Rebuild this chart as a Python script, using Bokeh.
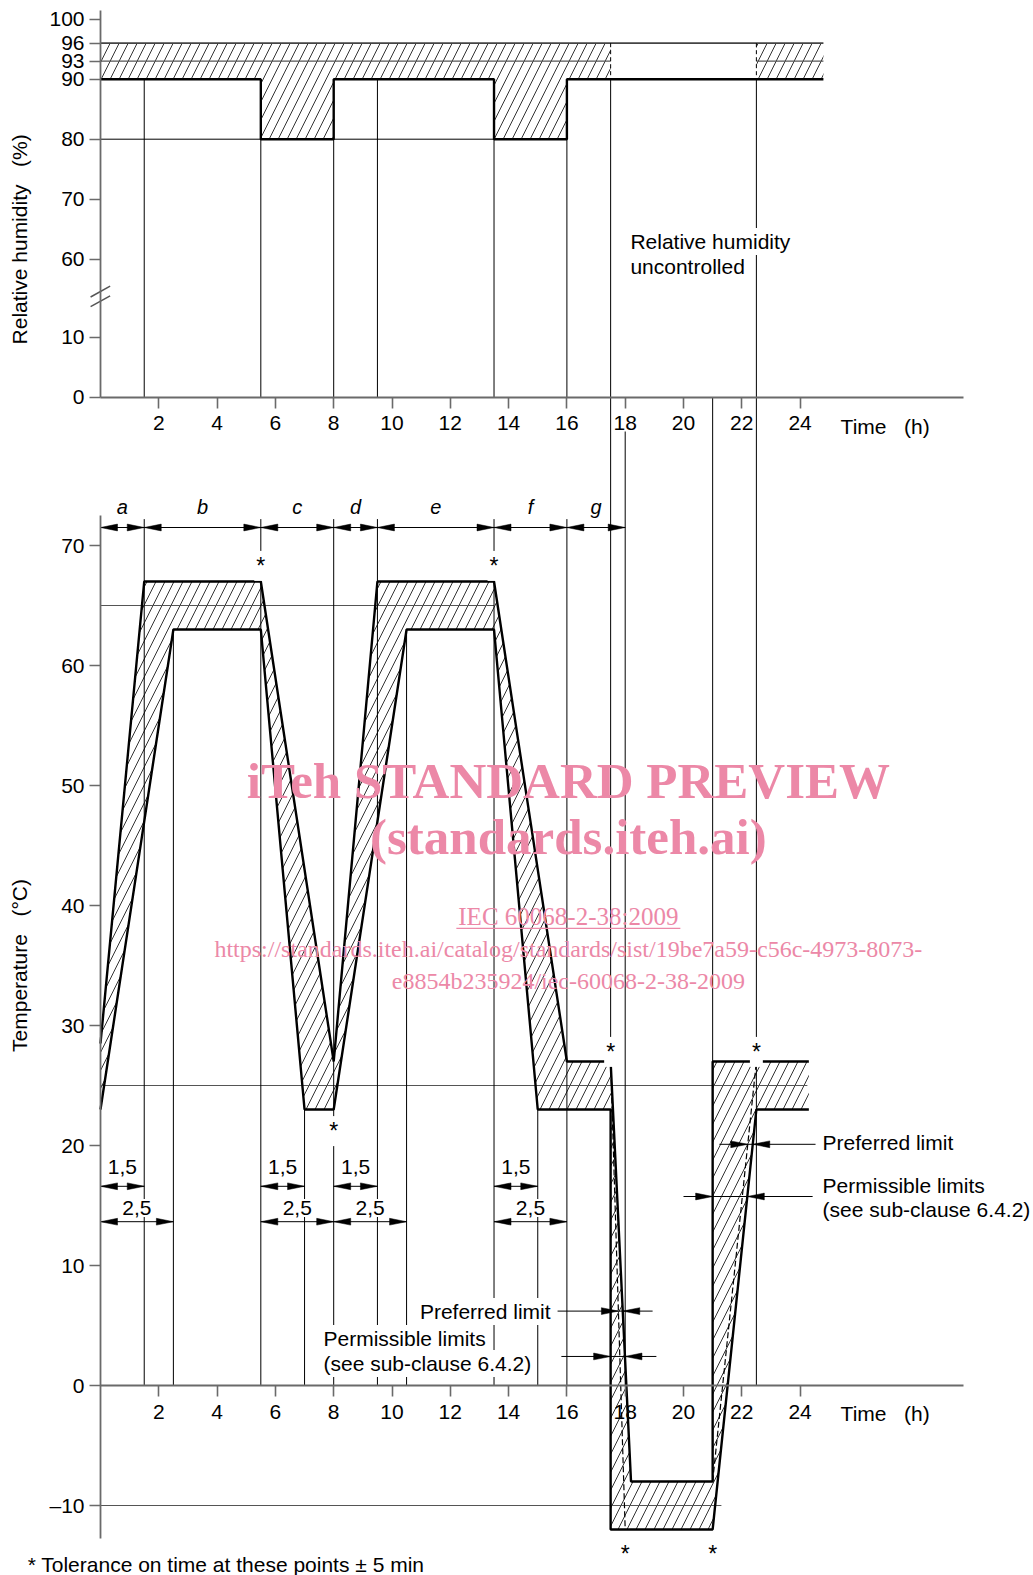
import numpy as np
from bokeh.plotting import figure
from bokeh.models import Range1d, LinearAxis, FixedTicker, Label
from bokeh.embed import file_html
from bokeh.resources import INLINE

# ------------------------------------------------------------------ data
TIME_TICKS = [2, 4, 6, 8, 10, 12, 14, 16, 18, 20, 22, 24]
TIME_AXIS_END = 29.6

# relative humidity (%) - top chart (broken axis)
RH_TICKS = [0, 10, 60, 70, 80, 90, 93, 96, 100]
RH_BREAK_SHIFT = 37                      # values above the break drawn 37 % lower
RH_STEP_EDGES = [0, 5.5, 8, 13.5, 16, 24.8]
RH_STEP_MIN = [90, 80, 90, 80, 90]       # lower limit in each step
RH_UPPER = 96
RH_MID = 93
RH_GAP = [17.5, 22.5]                    # humidity uncontrolled between these times
RH_VLINE_T = [1.5, 5.5, 8, 9.5, 13.5, 16]
RH_VLINE_TOP = [90, 80, 80, 90, 80, 80]

# temperature (deg C) - bottom chart
T_TICKS = [-10, 0, 10, 20, 30, 40, 50, 60, 70]
TU_T = [0, 1.5, 5.5, 8, 9.5, 13.5, 16, 17.5, 18.2, 21, 21, 24.3]      # upper envelope
TU_V = [28.5, 67, 67, 27, 67, 67, 27, 27, -8, -8, 27, 27]
TL_T = [0, 2.5, 5.5, 7, 8, 10.5, 13.5, 15, 17.5, 17.5, 21, 22.5, 24.3]  # lower envelope
TL_V = [23, 63, 63, 23, 23, 63, 63, 23, 23, -12, -12, 23, 23]
COLD_START = 17.5
WARM_START = 21
PREF_COLD_T = [17.5, 18]      # preferred limit (dashed), cooling
PREF_COLD_V = [27, -12]
PREF_WARM_T = [21, 22.5]      # preferred limit (dashed), heating
PREF_WARM_V = [-8, 27]
SOLID_COLD_T = [17.5, 18.2]
SOLID_COLD_V = [27, -8]
SOLID_WARM_T = [21, 22.5]
SOLID_WARM_V = [-12, 23]
T_REF_LEVEL = [65, 25, -10]
T_REF_END = [13.5, 24.25, 21.3]

T_VLINE_T = [1.5, 2.5, 5.5, 7, 8, 9.5, 10.5, 13.5, 15, 16]
T_VLINE_TOP = [72.2, 63, 72.2, 23, 72.2, 72.2, 63, 72.2, 23, 72.2]
LONG_T = [17.5, 18, 21, 22.5]
LONG_TOP = [("rh", 90), ("T", 79.5), ("rh", 0), ("rh", 90)]
LONG_BOT = [27, 0, 27, 0]

PHASE_LABELS = ["a", "b", "c", "d", "e", "f", "g"]
PHASE_EDGES = [0, 1.5, 5.5, 8, 9.5, 13.5, 16, 18]
PHASE_ROW = 71.5

RAMP_START = [0, 5.5, 8, 13.5]
RAMP_DUR = [1.5, 2.5]
RAMP_TEXT = ["1,5", "2,5"]
RAMP_ROW = [16.6, 13.65]
RAMP_TEXT_Y = [18.25, 14.8]

STAR_T = [5.5, 13.5, 8, 17.5, 22.5, 18, 21]
STAR_V = [68.3, 68.3, 21.2, 27.8, 27.8, -14.0, -14.0]

ANN_ROW = [6.2, 2.42, 20.1, 15.75]
ANN_LEADER = [(15.68, 18.94), (15.81, 19.07), (21.23, 24.53), (20.0, 24.43)]

BREAK_X0 = [-0.34, -0.34]
BREAK_Y0 = [15.1, 16.7]
BREAK_X1 = [0.33, 0.33]
BREAK_Y1 = [16.9, 18.5]

# ------------------------------------------------------------------ geometry
W, H = 1033, 1575
X0_PX, PXH = 100.0, 29.15      # canvas x of t=0, px per hour
T0_PX, PXC = 1385.0, 12.0      # canvas y of 0 degC, px per degC
RH0_PX, PXR = 396.7, 6.0       # canvas y of RH 0, px per %
AXIS_TOP_PX = 10.0

x_range = Range1d(-X0_PX / PXH, (W - X0_PX) / PXH)
y_range = Range1d(-(H - T0_PX) / PXC, T0_PX / PXC)
rh_range = Range1d(-(H - RH0_PX) / PXR, RH0_PX / PXR)


def rh_disp(v):
    return v - RH_BREAK_SHIFT if v > 30 else v


def rh_to_T(v):
    cy = RH0_PX - PXR * rh_disp(v)
    return (T0_PX - cy) / PXC


def t_at(v, tp, vp):
    return tp[0] + (v - vp[0]) / (vp[1] - vp[0]) * (tp[1] - tp[0])


FONT = "Liberation Sans"
AX = "#6a6a6a"

p = figure(width=W, height=H, x_range=x_range, y_range=y_range,
           output_backend="svg", toolbar_location=None,
           x_axis_type=None, y_axis_type=None, min_border=0,
           outline_line_color=None, background_fill_color="white",
           border_fill_color="white")
p.extra_y_ranges = {"rh": rh_range}

# ------------------------------------------------------------------ hatching
hatch = dict(fill_color=None, line_color=None, hatch_pattern="/",
             hatch_color="black", hatch_scale=18, hatch_weight=0.8)

# humidity: lower step line
rh_xs, rh_ys = [RH_STEP_EDGES[0]], [RH_STEP_MIN[0]]
for i, v in enumerate(RH_STEP_MIN):
    rh_xs.append(RH_STEP_EDGES[i + 1]); rh_ys.append(v)
    if i + 1 < len(RH_STEP_MIN):
        rh_xs.append(RH_STEP_EDGES[i + 1]); rh_ys.append(RH_STEP_MIN[i + 1])

low_part = [(x, y) for x, y in zip(rh_xs, rh_ys) if x < RH_GAP[0]]
poly1 = [(0, RH_UPPER), (RH_GAP[0], RH_UPPER), (RH_GAP[0], RH_STEP_MIN[-1])] + low_part[::-1]
poly2 = [(RH_GAP[1], RH_UPPER), (RH_STEP_EDGES[-1], RH_UPPER),
         (RH_STEP_EDGES[-1], RH_STEP_MIN[-1]), (RH_GAP[1], RH_STEP_MIN[-1])]
p.patches([[a for a, b in poly1], [a for a, b in poly2]],
          [[rh_disp(b) for a, b in poly1], [rh_disp(b) for a, b in poly2]],
          y_range_name="rh", **hatch)

# temperature band
p.patch(TU_T + TL_T[::-1], TU_V + TL_V[::-1], **hatch)

# ------------------------------------------------------------------ thin reference lines
p.segment(x0=[0] * 3, y0=T_REF_LEVEL, x1=T_REF_END, y1=T_REF_LEVEL,
          line_color="#555555", line_width=1.2)
p.segment(x0=[0, RH_GAP[1]], y0=[rh_disp(RH_MID)] * 2,
          x1=[RH_GAP[0], RH_STEP_EDGES[-1]], y1=[rh_disp(RH_MID)] * 2,
          line_color="#555555", line_width=1.2, y_range_name="rh")
p.segment(x0=[0], y0=[rh_disp(80)], x1=[RH_STEP_EDGES[4]], y1=[rh_disp(80)],
          line_color="black", line_width=1.0, y_range_name="rh")
p.line([0, RH_STEP_EDGES[-1]], [rh_disp(RH_UPPER)] * 2, line_color="#444444",
       line_width=1.8, y_range_name="rh")

# vertical lines in humidity chart
p.segment(x0=RH_VLINE_T, y0=[rh_disp(v) for v in RH_VLINE_TOP],
          x1=RH_VLINE_T, y1=[0] * len(RH_VLINE_T),
          line_color="black", line_width=1.0, y_range_name="rh")
p.segment(x0=RH_GAP, y0=[rh_disp(RH_UPPER)] * 2, x1=RH_GAP,
          y1=[rh_disp(RH_STEP_MIN[-1])] * 2, line_color="black",
          line_width=1.0, line_dash="4 3", y_range_name="rh")

# vertical lines in temperature chart
p.segment(x0=T_VLINE_T, y0=T_VLINE_TOP, x1=T_VLINE_T, y1=[0] * len(T_VLINE_T),
          line_color="black", line_width=1.0)
long_top = [rh_to_T(v) if k == "rh" else v for k, v in LONG_TOP]
p.segment(x0=LONG_T, y0=long_top, x1=LONG_T, y1=LONG_BOT,
          line_color="black", line_width=1.0)

# break marks on humidity axis
p.segment(x0=BREAK_X0, y0=BREAK_Y0, x1=BREAK_X1, y1=BREAK_Y1,
          line_color="#555555", line_width=1.5, y_range_name="rh")

# ------------------------------------------------------------------ thick limit lines
p.line(rh_xs, [rh_disp(v) for v in rh_ys], line_color="black", line_width=2.4,
       y_range_name="rh")
p.line(TU_T, TU_V, line_color="black", line_width=2.4)
p.line(TL_T, TL_V, line_color="black", line_width=2.4)
p.line(PREF_COLD_T, PREF_COLD_V, line_color="black", line_width=1.2, line_dash="6 3")
p.line(PREF_WARM_T, PREF_WARM_V, line_color="black", line_width=1.2, line_dash="6 3")

# ------------------------------------------------------------------ arrows
HEAD_L, HEAD_W = 17.0, 3.4
seg_x0, seg_y0, seg_x1, seg_y1 = [], [], [], []
head_xs, head_ys = [], []


def head(tip_t, tip_v, direction):
    L = HEAD_L / PXH
    w = HEAD_W / PXC
    head_xs.append([tip_t, tip_t - direction * L, tip_t - direction * L])
    head_ys.append([tip_v, tip_v + w, tip_v - w])


def dim(a, b, y):
    seg_x0.append(a); seg_x1.append(b); seg_y0.append(y); seg_y1.append(y)
    head(a, y, -1)
    head(b, y, 1)


for i in range(len(PHASE_LABELS)):
    dim(PHASE_EDGES[i], PHASE_EDGES[i + 1], PHASE_ROW)
for s in RAMP_START:
    for d, row in zip(RAMP_DUR, RAMP_ROW):
        dim(s, s + d, row)

# preferred / permissible limit markers
left_tips = [t_at(ANN_ROW[0], PREF_COLD_T, PREF_COLD_V), COLD_START,
             t_at(ANN_ROW[2], PREF_WARM_T, PREF_WARM_V), WARM_START]
right_tips = [t_at(ANN_ROW[0], SOLID_COLD_T, SOLID_COLD_V),
              t_at(ANN_ROW[1], SOLID_COLD_T, SOLID_COLD_V),
              t_at(ANN_ROW[2], SOLID_WARM_T, SOLID_WARM_V),
              t_at(ANN_ROW[3], SOLID_WARM_T, SOLID_WARM_V)]
for row, (a, b), lt, rt in zip(ANN_ROW, ANN_LEADER, left_tips, right_tips):
    seg_x0.append(a); seg_x1.append(b); seg_y0.append(row); seg_y1.append(row)
    head(lt, row, 1)
    head(rt, row, -1)

p.segment(x0=seg_x0, y0=seg_y0, x1=seg_x1, y1=seg_y1, line_color="black", line_width=1.0)
p.patches(head_xs, head_ys, fill_color="black", line_color="black", line_width=0.5)

# ------------------------------------------------------------------ axes


def style(ax, standoff):
    ax.axis_line_color = AX
    ax.axis_line_width = 1.8
    ax.major_tick_line_color = AX
    ax.major_tick_line_width = 1.6
    ax.major_tick_out = 11
    ax.major_tick_in = 0
    ax.minor_tick_line_color = None
    ax.major_label_text_font = FONT
    ax.major_label_text_font_size = "21px"
    ax.major_label_text_color = "black"
    ax.major_label_standoff = standoff


ax_rh_y = LinearAxis(y_range_name="rh", fixed_location=0,
                     bounds=(0, (RH0_PX - AXIS_TOP_PX) / PXR),
                     ticker=FixedTicker(ticks=[rh_disp(v) for v in RH_TICKS]),
                     major_label_overrides={rh_disp(v): str(v) for v in RH_TICKS})
ax_t_y = LinearAxis(fixed_location=0, bounds=(-12.75, 72.5),
                    ticker=FixedTicker(ticks=T_TICKS),
                    major_label_overrides={-10: "\u201310"})
ax_rh_x = LinearAxis(fixed_location=rh_to_T(0), bounds=(0, TIME_AXIS_END),
                     ticker=FixedTicker(ticks=TIME_TICKS))
ax_t_x = LinearAxis(fixed_location=0, bounds=(0, TIME_AXIS_END),
                    ticker=FixedTicker(ticks=TIME_TICKS))
for ax, side, so in [(ax_rh_y, "left", 5), (ax_t_y, "left", 5),
                     (ax_rh_x, "below", 8), (ax_t_x, "below", 8)]:
    style(ax, so)
    p.add_layout(ax, side)

# ------------------------------------------------------------------ texts


def label(x, y, text, size="21px", align="left", baseline="middle", rng=None,
          bg=False, **kw):
    args = dict(x=x, y=y, text=text, text_font=FONT, text_font_size=size,
                text_align=align, text_baseline=baseline, text_color="black")
    if rng:
        args["y_range_name"] = rng
    if bg:
        args.update(background_fill_color="white", padding=2)
    args.update(kw)
    p.add_layout(Label(**args))


NB = "\u00a0"
label(-2.78, 26.3, "Relative humidity" + NB * 3 + "(%)", align="center", rng="rh",
      angle=np.pi / 2)
label(-2.78, 35.0, "Temperature" + NB * 3 + "(\u00b0C)", align="center", angle=np.pi / 2)
label(25.39, 79.9, "Time" + NB * 3 + "(h)")
label(25.39, -2.3, "Time" + NB * 3 + "(h)")
label(18.11, 25.95, "Relative humidity", rng="rh", bg=True)
label(18.11, 21.78, "uncontrolled", rng="rh", bg=True)

for i, name in enumerate(PHASE_LABELS):
    label((PHASE_EDGES[i] + PHASE_EDGES[i + 1]) / 2, 73.2, name, size="20px",
          align="center", text_font_style="italic")
for s in RAMP_START:
    for d, ty, txt in zip(RAMP_DUR, RAMP_TEXT_Y, RAMP_TEXT):
        label(s + d / 2, ty, txt, align="center", bg=True)
for st, sv in zip(STAR_T, STAR_V):
    label(st, sv, "*", size="23px", align="center", bg=True)

label(15.51, 6.17, "Preferred limit", align="right", bg=True)
label(7.58, 3.92, "Permissible limits", bg=True)
label(7.58, 1.83, "(see sub-clause 6.4.2)", bg=True)
label(24.77, 20.25, "Preferred limit")
label(24.77, 16.67, "Permissible limits")
label(24.77, 14.67, "(see sub-clause 6.4.2)")
label(-2.5, -14.92, "* Tolerance on time at these points \u00b1 5 min")

# watermark
PINK = "#ec88a7"
WM_X = 16.05
WM_Y = [50.4, 45.67, 39.1, 36.4, 33.75]
wm = dict(text_font="Liberation Serif", text_color=PINK, text_align="center",
          text_baseline="middle")
p.add_layout(Label(x=WM_X, y=WM_Y[0], text="iTeh STANDARD PREVIEW",
                   text_font_size="51px", text_font_style="bold", **wm))
p.add_layout(Label(x=WM_X, y=WM_Y[1], text="(standards.iteh.ai)",
                   text_font_size="51px", text_font_style="bold", **wm))
p.add_layout(Label(x=WM_X, y=WM_Y[2], text="IEC 60068-2-38:2009",
                   text_font_size="25px", **wm))
p.add_layout(Label(x=WM_X, y=WM_Y[3],
                   text="https://standards.iteh.ai/catalog/standards/sist/19be7a59-c56c-4973-8073-",
                   text_font_size="24px", **wm))
p.add_layout(Label(x=WM_X, y=WM_Y[4], text="e8854b235924/iec-60068-2-38-2009",
                   text_font_size="24px", **wm))
# underline of the standard's number
UL_HALF = 112 / PXH
UL_DY = 12 / PXC
p.segment(x0=[WM_X - UL_HALF], y0=[WM_Y[2] - UL_DY], x1=[WM_X + UL_HALF],
          y1=[WM_Y[2] - UL_DY], line_color=PINK, line_width=1.3)

open("out.html", "w").write(file_html(p, INLINE))
